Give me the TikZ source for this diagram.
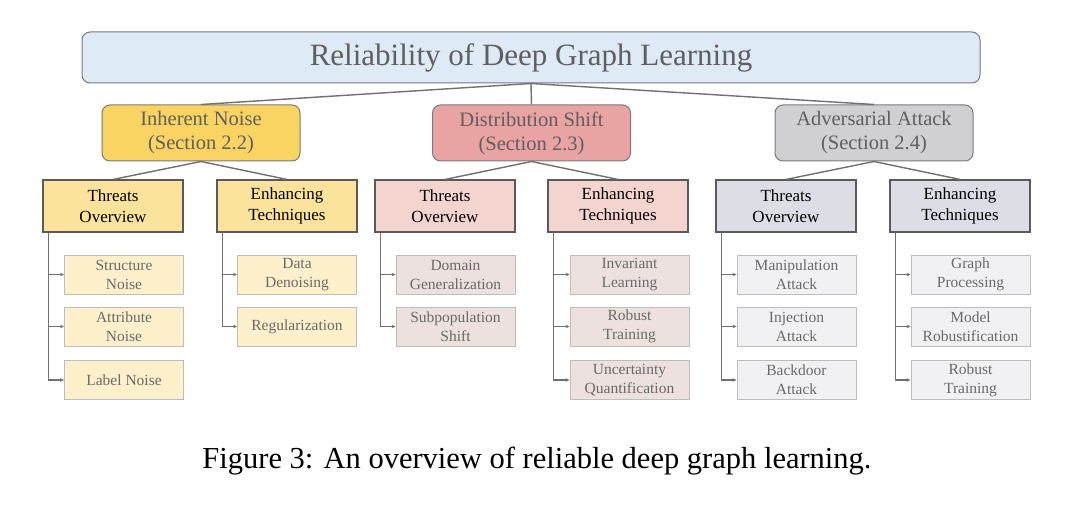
\documentclass[tikz,border=0pt]{standalone}
\usepackage{fontspec}
\setmainfont{Liberation Serif}
\usetikzlibrary{arrows.meta}
\definecolor{topfill}{HTML}{DEEAF5}
\definecolor{inA}{HTML}{F9D462}
\definecolor{inB}{HTML}{FBE39B}
\definecolor{inC}{HTML}{FDF0CB}
\definecolor{dsA}{HTML}{EAA3A3}
\definecolor{dsB}{HTML}{F3D4CF}
\definecolor{dsC}{HTML}{ECE1DE}
\definecolor{aaA}{HTML}{D0D0D3}
\definecolor{aaB}{HTML}{DCDDE5}
\definecolor{aaC}{HTML}{F1F1F4}
\definecolor{bordA}{HTML}{7A7A7A}
\definecolor{bordB}{HTML}{5A5A5A}
\definecolor{bordC}{HTML}{BDBDBD}
\definecolor{txtA}{HTML}{5F5F5F}
\definecolor{txtC}{HTML}{6A6A6A}
\definecolor{linkc}{HTML}{707070}
\begin{document}
\begin{tikzpicture}[x=1pt,y=-1pt,
  topbox/.style={draw=bordA, fill=topfill, rounded corners=8pt, line width=1pt,
    minimum width=898pt, minimum height=51pt, inner sep=0pt,
    font=\fontsize{31}{36}\selectfont, text=txtA},
  lvtwo/.style={draw=bordA, rounded corners=8pt, line width=1pt,
    minimum width=198pt, minimum height=56pt, inner sep=0pt, align=center,
    font=\fontsize{20.5}{24}\selectfont, text=txtA},
  lvthree/.style={draw=bordB, line width=1.1pt,
    minimum width=140pt, minimum height=52pt, inner sep=0pt, align=center,
    font=\fontsize{17}{21}\selectfont, text=black},
  lvfour/.style={draw=bordC, line width=0.9pt,
    minimum width=119pt, minimum height=39pt, inner sep=0pt, align=center,
    font=\fontsize{15.5}{19}\selectfont, text=txtC},
  link/.style={draw=linkc, line width=1.4pt},
  tree/.style={draw=linkc, line width=1.2pt, -{Stealth[length=4pt,width=3.5pt]}}
]
\useasboundingbox (0,0) rectangle (1080,505);
\fill[white] (0,0) rectangle (1080,505);

\node[topbox] (top) at (531,57.5) {Reliability of Deep Graph Learning};

\node[lvtwo, fill=inA] (in) at (201,133) {Inherent Noise\\(Section 2.2)};
\node[lvtwo, fill=dsA] (ds) at (531.5,133) {Distribution Shift\\(Section 2.3)};
\node[lvtwo, fill=aaA] (aa) at (874,133) {Adversarial Attack\\(Section 2.4)};

\draw[link] (top.south) -- (in.north);
\draw[link] (top.south) -- (ds.north);
\draw[link] (top.south) -- (aa.north);

\node[lvthree, fill=inB] (inT) at (113,206) {Threats\\Overview};
\node[lvthree, fill=inB] (inE) at (287,206) {Enhancing\\Techniques};
\node[lvthree, fill=dsB] (dsT) at (445,206) {Threats\\Overview};
\node[lvthree, fill=dsB] (dsE) at (618,206) {Enhancing\\Techniques};
\node[lvthree, fill=aaB] (aaT) at (786,206) {Threats\\Overview};
\node[lvthree, fill=aaB] (aaE) at (960,206) {Enhancing\\Techniques};

\foreach \p/\c in {in/inT,in/inE,ds/dsT,ds/dsE,aa/aaT,aa/aaE}
  \draw[link] (\p.south) -- (\c.north);

% Inherent noise leaves
\node[lvfour, fill=inC] (in1) at (124,274.5) {Structure\\Noise};
\node[lvfour, fill=inC] (in2) at (124,326.5) {Attribute\\Noise};
\node[lvfour, fill=inC] (in3) at (124,380) {Label Noise};
\node[lvfour, fill=inC] (in4) at (297,274.5) {Data\\Denoising};
\node[lvfour, fill=inC] (in5) at (297,326.5) {Regularization};

% Distribution shift leaves
\node[lvfour, fill=dsC] (ds1) at (455.5,274.5) {Domain\\Generalization};
\node[lvfour, fill=dsC] (ds2) at (455.5,326.5) {Subpopulation\\Shift};
\node[lvfour, fill=dsC] (ds3) at (629.5,274.5) {Invariant\\Learning};
\node[lvfour, fill=dsC] (ds4) at (629.5,326.5) {Robust\\Training};
\node[lvfour, fill=dsC] (ds5) at (629.5,380) {Uncertainty\\Quantification};

% Adversarial attack leaves
\node[lvfour, fill=aaC] (aa1) at (796.5,274.5) {Manipulation\\Attack};
\node[lvfour, fill=aaC] (aa2) at (796.5,326.5) {Injection\\Attack};
\node[lvfour, fill=aaC] (aa3) at (796.5,380) {Backdoor\\Attack};
\node[lvfour, fill=aaC] (aa4) at (970.5,274.5) {Graph\\Processing};
\node[lvfour, fill=aaC] (aa5) at (970.5,326.5) {Model\\Robustification};
\node[lvfour, fill=aaC] (aa6) at (970.5,380) {Robust\\Training};

\foreach \p/\c in {inT/in1,inT/in2,inT/in3,inE/in4,inE/in5,
                   dsT/ds1,dsT/ds2,dsE/ds3,dsE/ds4,dsE/ds5,
                   aaT/aa1,aaT/aa2,aaT/aa3,aaE/aa4,aaE/aa5,aaE/aa6}
  \draw[tree] ([xshift=6pt]\p.south west) |- (\c.west);

\node[font=\fontsize{30.5}{36}\selectfont, text=black] (cap) at (537,461)
  {Figure 3: An overview of reliable deep graph learning.};
\end{tikzpicture}
\end{document}
